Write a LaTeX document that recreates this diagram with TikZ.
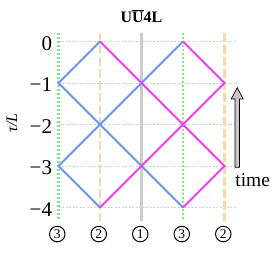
\documentclass[tikz,border=0pt]{standalone}
\usepackage{fontspec}
\setmainfont{Liberation Serif}
\usepackage{tikz}
\usetikzlibrary{positioning,arrows.meta}
\definecolor{wblue}{HTML}{6A96EA}
\definecolor{wmag}{HTML}{F03CF0}
\definecolor{vgreen}{HTML}{84E684}
\definecolor{vorange}{HTML}{F8D8A8}
\definecolor{vgray}{HTML}{CCCCCC}
\begin{document}
\begin{tikzpicture}[x=41.5pt,y=41.5pt,font=\fontsize{21}{23}\selectfont,
  g/.style={draw=black!18,line width=0.6pt,dash pattern=on 2pt off 1.5pt},
  v3/.style={draw=vgreen,line width=2.2pt,dash pattern=on 2pt off 2pt},
  v2/.style={draw=vorange,line width=2.3pt,dash pattern=on 9pt off 3pt},
  v1/.style={draw=vgray,line width=2.3pt},
  wl/.style={draw=wblue,line width=2pt,line join=miter},
  wr/.style={draw=wmag,line width=2pt,line join=miter},
  lab/.style={draw,circle,line width=1pt,minimum size=15.5pt,inner sep=0pt,
              font=\fontsize{13.5}{14}\selectfont},
  tarrow/.style={draw=black,fill=black!22,line width=0.7pt,line join=miter}]
\useasboundingbox (-1.41,1.0) rectangle (5.313,-5.096);
% lattice points
\foreach \i in {0,...,4}
  \foreach \j in {0,...,4}
    \coordinate (p\i\j) at (\i,-\j);
% horizontal grid and tick labels
\foreach \j/\t in {0/0,1/−1,2/−2,3/−3,4/−4}{
  \coordinate (g\j) at (4.3,-\j);
  \draw[g](p0\j)--(g\j);
  \node[anchor=east,inner sep=0pt](tk\j) at (-0.15,-\j-0.04){\t};
}
% vertical guides and circled labels
\foreach \i/\s/\n in {0/v3/3,1/v2/2,2/v1/1,3/v3/3,4/v2/2}{
  \coordinate (t\i) at (\i,0.205);
  \coordinate (b\i) at (\i,-4.32);
  \draw[\s](t\i)--(b\i);
  \node[lab](c\i) at (\i-0.03,-4.64){\n};
}
% world lines
\draw[wl](p10)--(p01)--(p34);
\draw[wl](p30)--(p03)--(p14);
\draw[wr](p10)--(p43)--(p34);
\draw[wr](p30)--(p41)--(p14);
% title and axis label
\node[anchor=base,font=\fontsize{16}{17}\selectfont\bfseries](ttl) at (2,0.463){U$\overline{\mbox{\bfseries U}}$4L};
\node[rotate=90,font=\fontsize{16}{18}\selectfont](ax) at (-1.12,-1.96){\textit{τ/L}};
% time arrow
\coordinate (ab) at (4.306,-3.03);
\coordinate (at) at (4.306,-1.113);
\draw[tarrow](ab) ++(-2.2pt,0) -- ++(0,68.3pt) -- ++(-3.8pt,0) -- (at)
  -- ++(6pt,-11.3pt) -- ++(-3.8pt,0) -- ++(0,-68.3pt) -- cycle;
\node[font=\fontsize{19.5}{21}\selectfont](tm) at (4.68,-3.33){time};
\end{tikzpicture}
\end{document}
